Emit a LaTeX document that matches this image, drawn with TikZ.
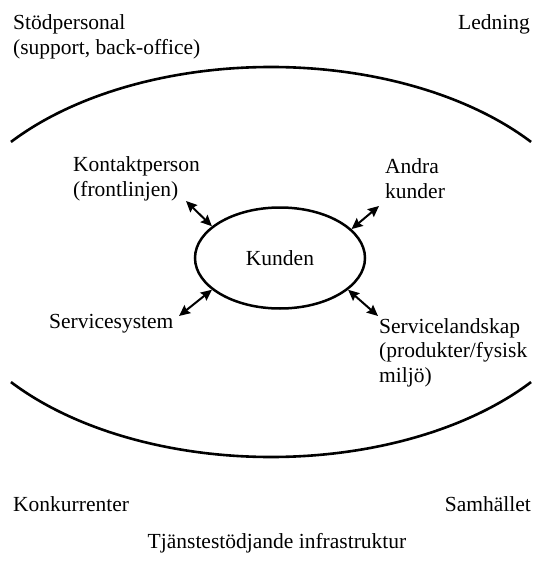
\documentclass[tikz,border=0pt]{standalone}
\usepackage{fontspec}
\setmainfont{Liberation Serif}
\usetikzlibrary{shapes.geometric,arrows.meta}

\begin{document}
\begin{tikzpicture}[x=1pt,y=-1pt,
  txt/.style={inner sep=0pt,align=left,font=\fontsize{21.5}{24.5}\selectfont},
  dblarr/.style={{Stealth[length=11pt,width=10pt,inset=1.5pt]}-{Stealth[length=11pt,width=10pt,inset=1.5pt]},line width=2pt},
  rim/.style={line width=2.6pt}]
\useasboundingbox (0,0) rectangle (532,561);
\coordinate(mid) at (271,262);
\node(kunden) at (280,258)[shape=ellipse,draw,line width=2.5pt,minimum width=170pt,minimum height=101pt,inner sep=0pt,font=\fontsize{21.5}{24.5}\selectfont] {Kunden};

% base anchor sits on the last line
\node(stod)      at (13,54.5)  [txt,anchor=base west] {Stödpersonal\\(support, back-office)};
\node(ledning)   at (530,30)   [txt,anchor=base east] {Ledning};
\node(kontakt)   at (73,196.5) [txt,anchor=base west] {Kontaktperson\\(frontlinjen)};
\node(andra)     at (385,198)  [txt,anchor=base west] {Andra\\kunder};
\node(system)    at (49,328)   [txt,anchor=base west] {Servicesystem};
\node(landskap)  at (379,382)  [txt,anchor=base west] {Servicelandskap\\(produkter/fysisk\\miljö)};
\node(konkurr)   at (13,511)   [txt,anchor=base west] {Konkurrenter};
\node(samhallet) at (531,511)  [txt,anchor=base east] {Samhället};
\node(infra)     at (277,548)  [txt,anchor=base] {Tjänstestödjande infrastruktur};

\coordinate(pk) at (186,201);
\coordinate(pa) at (379,206);
\coordinate(ps) at (179,316);
\coordinate(pl) at (378,316);

\draw[rim] (mid) ++(142:330pt and 195pt) arc [start angle=142,end angle=38,x radius=330pt,y radius=195pt];
\draw[rim] (mid) ++(218:330pt and 195pt) arc [start angle=218,end angle=322,x radius=330pt,y radius=195pt];

\path [dblarr]
  (kunden.155)  edge  (pk)
  (kunden.22)   edge  (pa)
  (kunden.205)  edge  (ps)
  (kunden.335)  edge  (pl);

\end{tikzpicture}
\end{document}
